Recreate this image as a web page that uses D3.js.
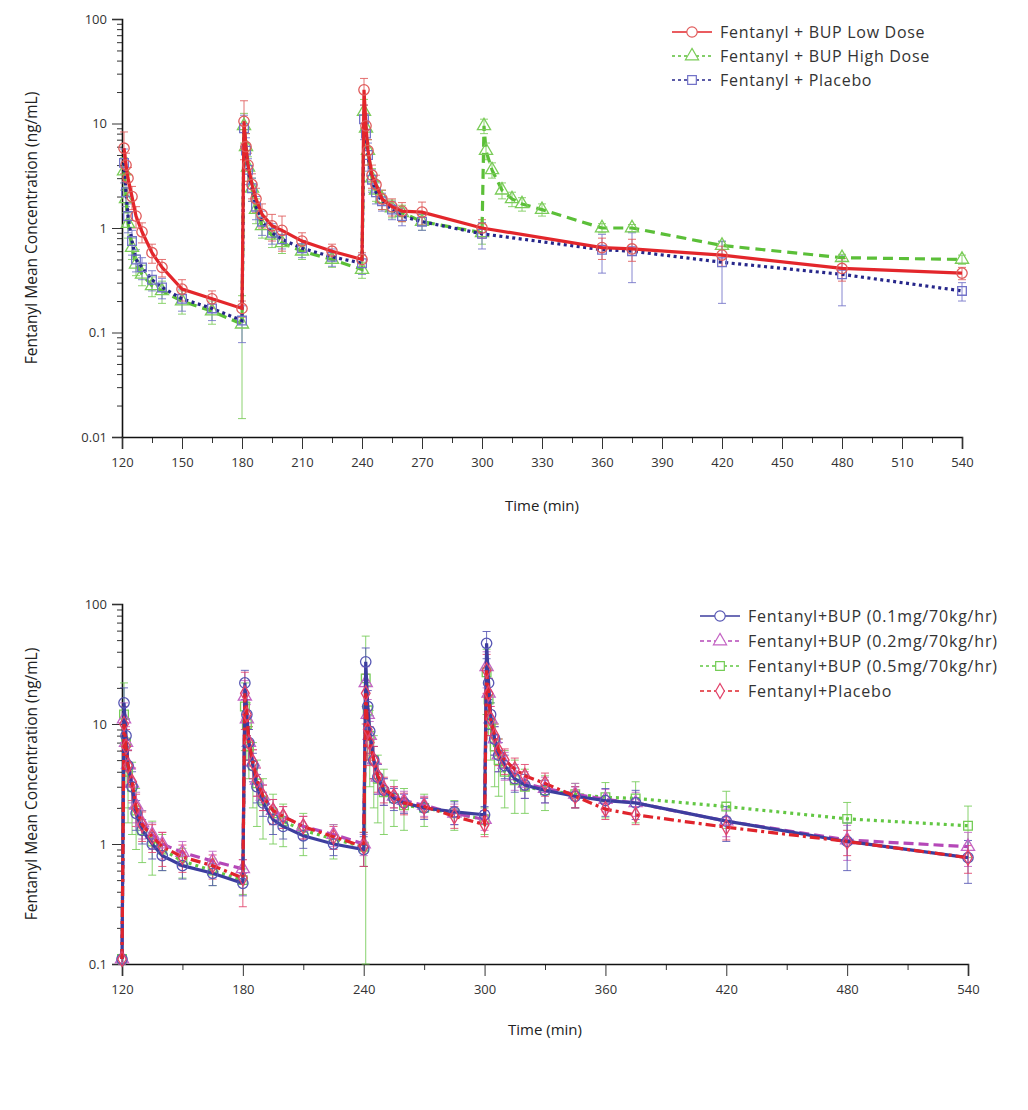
<!DOCTYPE html>
<html><head><meta charset="utf-8">
<script src="https://cdn.jsdelivr.net/npm/d3@7"></script>
<style>body{margin:0;background:#fff}</style>
</head><body><svg id="c" width="1028" height="1110"></svg>
<script>
// ---------------- TOP PANEL DATA ----------------
const topTimes = [121,122,123,125,127,130,135,140,150,165,180, 181,182,183,185,187,190,195,200,210,225,240, 241,242,243,245,247,250,255,260,270,300,360,375,420,480,540];
const highTimes = [121,122,123,125,127,130,135,140,150,165,180, 181,182,183,185,187,190,195,200,210,225,240, 241,242,243,245,247,250,255,260,270,300, 301,302,305,310,315,320,330,360,375,420,480,540];

const lowDoseMean = [5.8,4.0,3.0,2.0,1.3,0.92,0.58,0.42,0.26,0.21,0.17, 10.5,6.0,4.0,2.6,1.9,1.35,1.05,0.95,0.75,0.6,0.5, 21,9.5,5.5,3.2,2.6,1.9,1.6,1.45,1.42,1.0,0.65,0.63,0.55,0.41,0.37];
const lowDoseSD   = [2.5,1.2,0.8,0.5,0.3,0.2,0.12,0.08,0.06,0.04,0.03, 6.0,2.0,1.2,0.7,0.5,0.35,0.3,0.35,0.15,0.1,0.08, 6.0,3,1.5,0.8,0.6,0.4,0.3,0.3,0.35,0.2,0.15,0.15,0.12,0.1,0.05];

const highDoseMean = [3.5,1.9,1.1,0.65,0.45,0.36,0.28,0.25,0.2,0.16,0.12, 9.5,6.0,3.8,2.4,1.5,1.05,0.85,0.72,0.6,0.5,0.4, 13,9,5.5,3.0,2.3,1.9,1.55,1.4,1.15,0.9, 9.5,5.5,3.6,2.3,1.9,1.7,1.5,1.0,1.0,0.68,0.52,0.5];
const highDoseSD   = [1.2,0.5,0.3,0.15,0.1,0.08,0.06,0.06,0.05,0.04,0.105, 3,2,1,0.6,0.4,0.25,0.2,0.15,0.1,0.08,0.07, 4,3,1.5,0.7,0.5,0.4,0.3,0.25,0.2,0.2, 1.5,1.0,0.6,0.4,0.3,0.25,0.2,0.1,0.08,0.06,0.04,0.05];

const placeboTopMean = [4.2,2.2,1.3,0.75,0.5,0.42,0.32,0.27,0.21,0.17,0.13, 9.0,5.5,3.6,2.4,1.6,1.15,0.9,0.78,0.64,0.53,0.46, 11,8,5,2.9,2.2,1.8,1.5,1.3,1.15,0.88,0.62,0.6,0.47,0.36,0.25];
const placeboTopSD   = [1.5,0.6,0.4,0.2,0.12,0.1,0.07,0.06,0.05,0.04,0.05, 3.0,1.8,1.0,0.6,0.4,0.3,0.2,0.15,0.12,0.1,0.1, 4.0,2.5,1.5,0.7,0.5,0.35,0.3,0.25,0.2,0.25,0.25,0.3,0.28,0.18,0.05];

const topLegend = ["Fentanyl + BUP Low Dose","Fentanyl + BUP High Dose","Fentanyl + Placebo"];
const topXTicks = [120,150,180,210,240,270,300,330,360,390,420,450,480,510,540];
const topYTicks = [0.01,0.1,1,10,100];
const topYLabels = ["0.01","0.1","1","10","100"];

// ---------------- BOTTOM PANEL DATA ----------------
const botTimes = [120,121,122,123,125,127,130,135,140,150,165,180, 181,182,183,185,187,190,195,200,210,225,240, 241,242,243,245,247,250,255,260,270,285,300, 301,302,303,305,307,310,315,320,330,345,360,375,420,480,540];

const bup01Mean = [0.11,15,8,4.5,3.0,1.8,1.3,1.0,0.8,0.66,0.57,0.47, 22,12,7,4.5,3.0,2.2,1.6,1.4,1.17,1.0,0.9, 33,14,8.7,5.0,3.6,2.8,2.4,2.2,2.0,1.85,1.75, 47,22,12,7.5,5.5,4.5,3.5,3.1,2.8,2.5,2.3,2.2,1.55,1.05,0.77];
const bup01SD   = [0.01,5,3,1.5,1.0,0.5,0.3,0.25,0.2,0.15,0.12,0.1, 6,4,2,1.2,0.8,0.5,0.4,0.3,0.25,0.2,0.25, 10,5,3,1.5,1.0,0.7,0.5,0.4,0.4,0.4,0.3, 12,6,3,2,1.5,1.0,0.8,0.7,0.6,0.5,0.6,0.6,0.5,0.45,0.3];

const bup02Mean = [0.11,11,7,4.6,3.2,2.1,1.5,1.2,1.0,0.85,0.72,0.62, 17,11,7,4.8,3.4,2.5,1.9,1.7,1.4,1.2,1.0, 22,12,8,5.0,3.6,2.8,2.5,2.3,2.1,1.8,1.6, 30,18,11,7.5,5.5,4.6,3.7,3.2,2.9,2.6,2.35,2.2,1.55,1.08,0.95];
const bup02SD   = [0.01,4,2.5,1.5,1.0,0.6,0.4,0.3,0.25,0.2,0.15,0.12, 6,3.5,2,1.3,0.9,0.6,0.45,0.35,0.3,0.25,0.2, 8,4,2.5,1.5,1.0,0.7,0.5,0.45,0.4,0.35,0.3, 10,6,3,2,1.5,1.2,0.9,0.8,0.7,0.6,0.5,0.5,0.4,0.35,0.3];

const bup05Mean = [0.11,12,7,4.0,3.0,1.9,1.3,1.05,0.9,0.72,0.6,0.5, 14,10,6.5,4.5,3.2,2.3,1.8,1.55,1.3,1.1,0.95, 24,13,8,5.0,3.5,2.7,2.4,2.1,2.0,1.8,1.6, 27,16,10,6.5,5.0,4.0,3.4,3.0,2.8,2.6,2.45,2.4,2.05,1.62,1.42];
const bup05SD   = [0.01,10,4,2.5,1.8,1.0,0.6,0.5,0.3,0.2,0.15,0.12, 8,5,3,2.5,1.8,1.2,0.8,0.6,0.5,0.35,0.3, 30,8,5,3,2.0,1.5,1.0,0.8,0.6,0.5,0.4, 15,8,5,3.5,2.5,2.0,1.6,1.2,0.9,0.6,0.8,0.9,0.7,0.6,0.65];

const placeboBotMean = [0.11,10,6.5,4.5,3.3,2.0,1.45,1.15,0.95,0.78,0.66,0.52, 18,12,7,4.8,3.4,2.5,1.9,1.7,1.4,1.15,0.95, 18,9,7,5.0,3.7,2.9,2.5,2.2,2.05,1.7,1.45, 28,18,11,8,6,5.0,4.2,3.7,3.2,2.5,1.95,1.75,1.38,1.05,0.77];
const placeboBotSD   = [0.01,4,2.5,1.5,1.0,0.6,0.4,0.3,0.3,0.2,0.15,0.22, 9,4,2.5,1.3,0.9,0.6,0.45,0.35,0.3,0.25,0.3, 8,4,2.5,1.5,1.0,0.7,0.5,0.45,0.4,0.35,0.3, 10,6,3,2,1.5,1.2,1.0,0.9,0.7,0.5,0.35,0.3,0.3,0.25,0.2];

const botLegend = ["Fentanyl+BUP (0.1mg/70kg/hr)","Fentanyl+BUP (0.2mg/70kg/hr)","Fentanyl+BUP (0.5mg/70kg/hr)","Fentanyl+Placebo"];
const botXTicks = [120,180,240,300,360,420,480,540];
const botYTicks = [0.1,1,10,100];
const botYLabels = ["0.1","1","10","100"];

const yTitle = "Fentanyl Mean Concentration (ng/mL)";
const xTitle = "Time (min)";

// ---------------- DRAWING ----------------
const svg = d3.select('#c');
svg.append('rect').attr('width',1028).attr('height',1110).attr('fill','#fff');
const FONT = "'Open Sans', 'Noto Sans', sans-serif";

function zip(t, m, s){ return t.map((d,i)=>({t:d, v:m[i], sd:s[i]})); }

function drawPanel(cfg){
  const g = svg.append('g');
  const x = d3.scaleLinear().domain([120,540]).range([cfg.x0, cfg.x1]);
  const y = d3.scaleLog().domain(cfg.yDomain).range([cfg.y1, cfg.y0]);

  // minor y ticks
  const minors = [];
  for (let e = Math.log10(cfg.yDomain[0]); e < Math.log10(cfg.yDomain[1]); e++)
    for (let k = 2; k <= 9; k++) minors.push(k*Math.pow(10,e));
  const yMinor = g.append('g').attr('transform',`translate(${cfg.x0},0)`)
    .call(d3.axisLeft(y).tickValues(minors).tickSize(5).tickFormat(''));
  yMinor.select('.domain').remove();
  const yMajor = g.append('g').attr('transform',`translate(${cfg.x0},0)`)
    .call(d3.axisLeft(y).tickValues(cfg.yTicks).tickSize(10).tickPadding(5)
      .tickFormat((d,i)=>cfg.yLabels[i]));
  const xMinorVals = [];
  for (let t = 120 + cfg.xMinorStep; t < 540; t += cfg.xStep) xMinorVals.push(t);
  const xMinor = g.append('g').attr('transform',`translate(0,${cfg.y1})`)
    .call(d3.axisBottom(x).tickValues(xMinorVals).tickSize(6).tickFormat(''));
  xMinor.select('.domain').remove();
  const xMajor = g.append('g').attr('transform',`translate(0,${cfg.y1})`)
    .call(d3.axisBottom(x).tickValues(cfg.xTicks).tickSize(12).tickPadding(9).tickFormat(d3.format('d')));
  g.selectAll('.domain').attr('stroke','#111').attr('stroke-width',1.6);
  g.selectAll('.tick line').attr('stroke','#333').attr('stroke-width',1);
  g.selectAll('.tick text').attr('font-family',FONT).attr('font-size',13).attr('fill','#333');

  g.append('text').attr('transform',`translate(${cfg.yTitleX},${(cfg.y0+cfg.y1)/2}) rotate(-90)`)
    .attr('text-anchor','middle').attr('font-family',FONT).attr('font-size',15.5).attr('fill','#222').text(yTitle);
  g.append('text').attr('x',(cfg.x0+cfg.x1)/2).attr('y',cfg.xTitleY)
    .attr('text-anchor','middle').attr('font-family',FONT).attr('font-size',15).attr('fill','#222').text(xTitle);

  const ymin = cfg.yDomain[0];
  const line = d3.line().x(d=>x(d.t)).y(d=>y(d.v));

  cfg.series.forEach(s=>{
    const data = zip(s.t, s.m, s.sd);
    const sg = g.append('g');
    data.forEach(d=>{
      const hi = y(d.v + d.sd), lo = y(Math.max(ymin, d.v - d.sd));
      const cx = x(d.t);
      sg.append('line').attr('x1',cx).attr('x2',cx).attr('y1',hi).attr('y2',lo)
        .attr('stroke',s.mk).attr('stroke-width',1).attr('opacity',0.85);
      [hi,lo].forEach(yy=>sg.append('line').attr('x1',cx-4).attr('x2',cx+4).attr('y1',yy).attr('y2',yy)
        .attr('stroke',s.mk).attr('stroke-width',1).attr('opacity',0.85));
    });
  });
  cfg.series.forEach(s=>{
    const data = zip(s.t, s.m, s.sd);
    const sg = g.append('g');
    sg.append('path').datum(data).attr('d',line).attr('fill','none')
      .attr('stroke',s.color).attr('stroke-width',s.w||3.2).attr('stroke-dasharray',s.dash||null);
    sg.selectAll('path.m').data(data).enter().append('path').attr('class','m')
      .attr('transform',d=>`translate(${x(d.t)},${y(d.v)})`)
      .attr('d',d3.symbol().type(s.sym).size(s.symSize))
      .attr('fill','none').attr('stroke',s.mk).attr('stroke-width',1.3);
  });

  // legend
  cfg.series.slice().sort((a,b)=>a.li-b.li).forEach((s,i)=>{
    const ly = cfg.legY + i*cfg.legDy;
    g.append('line').attr('x1',cfg.legX).attr('x2',cfg.legX+cfg.legW).attr('y1',ly).attr('y2',ly)
      .attr('stroke',s.color).attr('stroke-width',1.6).attr('stroke-dasharray',s.legDash||null);
    g.append('path').attr('transform',`translate(${cfg.legX+cfg.legW/2},${ly})`)
      .attr('d',d3.symbol().type(s.sym).size(s.symSize)).attr('fill','#fff').attr('stroke',s.mk).attr('stroke-width',1.2);
    g.append('text').attr('x',cfg.legX+cfg.legW+8).attr('y',ly+5.5).attr('font-family',FONT)
      .attr('font-size',cfg.legFont).attr('letter-spacing',cfg.legLS).attr('fill','#333').text(cfg.legend[s.li]);
  });
}

drawPanel({
  x0:122, x1:962, y0:19, y1:437, yDomain:[0.01,100], yTicks:topYTicks, yLabels:topYLabels,
  xTicks:topXTicks, xStep:30, xMinorStep:15, yTitleX:37, xTitleY:511,
  legX:672, legW:40, legY:32, legDy:24, legFont:16, legLS:0.7, legend:topLegend,
  series:[
    {li:1, t:highTimes, m:highDoseMean, sd:highDoseSD, color:'#5bbf38', mk:'#7acc58', dash:'10,6', legDash:'3,3', sym:d3.symbolTriangle, symSize:75},
    {li:2, t:topTimes, m:placeboTopMean, sd:placeboTopSD, color:'#26268a', mk:'#7272c8', dash:'3,3.5', legDash:'3,3', sym:d3.symbolSquare, symSize:75},
    {li:0, t:topTimes, m:lowDoseMean, sd:lowDoseSD, color:'#e3262b', mk:'#e05a5a', sym:d3.symbolCircle, symSize:85}
  ]
});

drawPanel({
  x0:122, x1:968, y0:604, y1:964, yDomain:[0.1,100], yTicks:botYTicks, yLabels:botYLabels,
  xTicks:botXTicks, xStep:60, xMinorStep:30, yTitleX:37, xTitleY:1035,
  legX:700, legW:40, legY:616, legDy:25, legFont:16, legLS:0.8, legend:botLegend,
  series:[
    {li:2, t:botTimes, m:bup05Mean, sd:bup05SD, color:'#62c743', mk:'#74cc56', dash:'3,4', legDash:'3,3', sym:d3.symbolSquare, symSize:75},
    {li:1, t:botTimes, m:bup02Mean, sd:bup02SD, color:'#b548b8', mk:'#c464c4', dash:'10,5', legDash:'4,3', sym:d3.symbolTriangle, symSize:75},
    {li:0, t:botTimes, m:bup01Mean, sd:bup01SD, color:'#3d3d9e', mk:'#5656b4', sym:d3.symbolCircle, symSize:85},
    {li:3, t:botTimes, m:placeboBotMean, sd:placeboBotSD, color:'#e0242c', mk:'#e2426a', dash:'10,4,3,4', legDash:'4,3', sym:d3.symbolDiamond, symSize:65}
  ]
});
</script></body></html>
